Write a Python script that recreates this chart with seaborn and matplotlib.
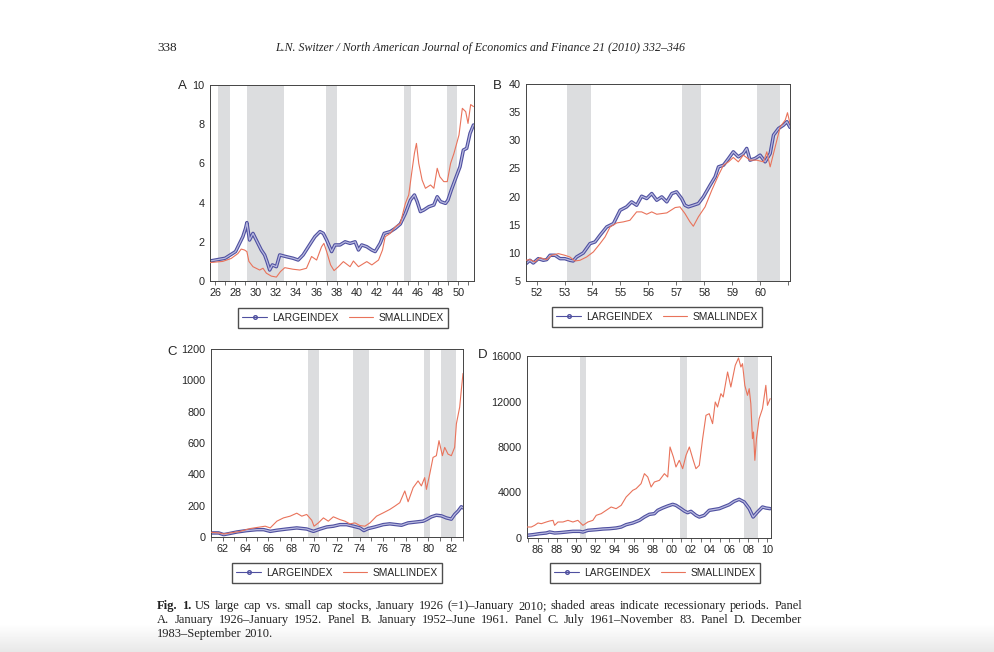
import numpy as np
import matplotlib
matplotlib.use("Agg")
import matplotlib.pyplot as plt
import matplotlib.patheffects as pe
import seaborn as sns
from matplotlib.lines import Line2D

# ---- Panel A: January 1926 - January 1952 ----
a_large_x = [1926.0, 1927.49, 1928.52, 1929.24, 1929.51, 1929.64, 1929.90, 1930.24, 1930.73,
             1931.06, 1931.39, 1931.62, 1931.89, 1932.15, 1932.55, 1932.88, 1933.54, 1934.20,
             1934.70, 1935.19, 1936.02, 1936.35, 1936.85, 1937.18, 1937.51, 1938.0, 1938.33,
             1938.83, 1939.33, 1939.82, 1940.32, 1940.65, 1940.97, 1941.47, 1941.97, 1942.30,
             1942.79, 1943.19, 1943.79, 1944.29, 1944.78, 1945.28, 1945.78, 1946.17, 1946.44,
             1946.76, 1947.09, 1947.59, 1948.09, 1948.42, 1948.75, 1949.24, 1949.48, 1949.81,
             1950.24, 1950.67, 1951.0, 1951.33, 1951.66, 1952.0]
a_large_y = [1.02, 1.16, 1.5, 2.26, 2.69, 2.98, 2.09, 2.43, 1.92,
             1.58, 1.33, 1.0, 0.56, 0.82, 0.73, 1.33, 1.24, 1.16,
             1.07, 1.33, 2.0, 2.26, 2.52, 2.43, 2.09, 1.5, 1.84,
             1.84, 2.0, 1.92, 2.0, 1.58, 1.84, 1.75, 1.58, 1.5,
             1.92, 2.43, 2.52, 2.69, 2.91, 3.45, 4.13, 4.39, 4.05,
             3.54, 3.62, 3.79, 3.88, 4.3, 4.05, 3.96, 4.13, 4.64,
             5.24, 5.83, 6.68, 6.77, 7.53, 7.96]
a_small_x = [1926.0, 1927.26, 1928.09, 1928.75, 1929.08, 1929.41, 1929.64, 1929.84, 1930.24,
             1930.90, 1931.23, 1931.56, 1932.05, 1932.55, 1932.95, 1933.38, 1934.20, 1934.86,
             1935.52, 1936.02, 1936.52, 1937.01, 1937.24, 1937.51, 1937.90, 1938.24, 1938.67,
             1939.16, 1939.82, 1940.15, 1940.65, 1941.47, 1941.97, 1942.63, 1943.02, 1943.29,
             1943.79, 1944.29, 1944.78, 1945.28, 1945.61, 1945.94, 1946.17, 1946.37, 1946.60,
             1946.93, 1947.26, 1947.76, 1948.09, 1948.42, 1948.68, 1949.07, 1949.41, 1949.74,
             1950.07, 1950.57, 1950.90, 1951.23, 1951.46, 1951.72, 1952.0]
a_small_y = [0.94, 1.0, 1.15, 1.4, 1.63, 1.58, 1.5, 1.0, 0.73,
             0.56, 0.65, 0.4, 0.25, 0.2, 0.48, 0.68, 0.6, 0.56,
             0.65, 1.25, 1.07, 1.75, 1.92, 1.5, 0.82, 0.53, 0.73,
             0.99, 0.73, 1.02, 0.73, 0.99, 0.82, 1.07, 1.58, 2.26,
             2.43, 2.77, 2.94, 3.96, 4.39, 5.66, 6.51, 7.02, 6.0,
             5.15, 4.73, 4.9, 4.73, 5.75, 5.32, 5.07, 5.07, 6.0,
             6.51, 7.45, 8.81, 8.64, 8.04, 9.0, 8.9]
a_recessions = [(1926.83, 1927.99), (1929.64, 1933.28), (1937.41, 1938.5),
                (1945.11, 1945.84), (1949.41, 1950.34)]

# ---- Panel B: January 1952 - June 1961 ----
b_large_x = [1952.12, 1952.26, 1952.38, 1952.56, 1952.74, 1952.86, 1952.98, 1953.16, 1953.34,
             1953.51, 1953.69, 1953.81, 1953.93, 1954.17, 1954.41, 1954.59, 1954.77, 1955.01,
             1955.25, 1955.49, 1955.72, 1955.90, 1956.08, 1956.26, 1956.44, 1956.62, 1956.80,
             1956.98, 1957.16, 1957.34, 1957.51, 1957.69, 1957.81, 1957.93, 1958.11, 1958.29,
             1958.47, 1958.71, 1958.89, 1959.01, 1959.19, 1959.37, 1959.54, 1959.72, 1959.90,
             1960.02, 1960.14, 1960.32, 1960.50, 1960.68, 1960.86, 1960.98, 1961.16, 1961.34,
             1961.46, 1961.57]
b_large_y = [8.08, 8.68, 8.2, 8.97, 8.68, 8.8, 9.57, 9.57, 8.97,
             8.97, 8.68, 8.56, 9.27, 9.98, 11.64, 11.94, 13.13, 14.61,
             15.2, 17.57, 18.17, 19.06, 18.46, 20.06, 19.65, 20.54, 19.35,
             19.95, 19.06, 20.54, 20.84, 19.65, 18.46, 18.17, 18.46, 18.76,
             19.95, 22.02, 23.5, 25.28, 25.58, 26.77, 27.95, 27.06, 27.65,
             28.55, 26.47, 26.77, 27.36, 26.17, 27.65, 30.92, 32.1, 32.7,
             33.3, 32.3]
b_small_x = [1952.12, 1952.26, 1952.44, 1952.62, 1952.86, 1953.04, 1953.28, 1953.51, 1953.69,
             1953.87, 1954.05, 1954.29, 1954.53, 1954.77, 1954.95, 1955.13, 1955.37, 1955.60,
             1955.84, 1956.08, 1956.26, 1956.44, 1956.62, 1956.80, 1957.16, 1957.46, 1957.63,
             1957.81, 1957.99, 1958.11, 1958.29, 1958.53, 1958.77, 1959.01, 1959.19, 1959.37,
             1959.54, 1959.72, 1959.90, 1960.14, 1960.38, 1960.62, 1960.74, 1960.86, 1961.04,
             1961.22, 1961.40, 1961.48, 1961.57]
b_small_y = [8.68, 8.8, 8.38, 9.15, 8.8, 9.57, 9.86, 9.57, 9.27,
             8.56, 8.68, 9.27, 10.16, 11.64, 12.83, 14.61, 15.32, 15.5,
             15.79, 17.28, 17.28, 16.86, 17.28, 16.86, 17.1, 18.05, 18.17,
             16.98, 15.5, 14.73, 16.39, 18.17, 21.13, 23.8, 25.58, 26.17,
             26.95, 26.17, 27.36, 26.47, 26.47, 26.17, 27.95, 25.28, 28.84,
             32.4, 33.59, 34.9, 33.0]
b_recessions = [(1953.60, 1954.43), (1957.69, 1958.37), (1960.38, 1961.22)]

# ---- Panel C: July 1961 - November 1983 ----
c_large_x = [1961.48, 1962.15, 1962.59, 1963.02, 1963.75, 1964.62, 1965.49, 1966.08, 1966.66,
             1967.24, 1968.11, 1968.98, 1969.85, 1970.44, 1971.02, 1971.60, 1972.18, 1972.76,
             1973.34, 1973.92, 1974.51, 1974.85, 1975.23, 1975.81, 1976.54, 1977.12, 1977.70,
             1978.14, 1978.72, 1979.45, 1980.03, 1980.32, 1980.76, 1981.19, 1981.63, 1982.06,
             1982.50, 1982.79, 1983.08, 1983.37, 1983.52]
c_large_y = [26, 26, 15, 21, 32, 41, 47, 47, 36,
             43, 51, 58, 51, 36, 51, 64, 69, 79,
             79, 69, 58, 41, 54, 64, 79, 84, 79,
             75, 90, 96, 101, 111, 129, 139, 135, 122,
             114, 144, 165, 193, 186]
c_small_x = [1961.48, 1962.15, 1962.59, 1963.17, 1964.04, 1964.91, 1965.78, 1966.22, 1966.66,
             1967.24, 1967.82, 1968.40, 1968.98, 1969.42, 1969.85, 1970.29, 1970.49, 1970.87,
             1971.31, 1971.74, 1972.18, 1972.76, 1973.20, 1973.63, 1974.07, 1974.51, 1974.94,
             1975.38, 1975.96, 1976.54, 1977.12, 1977.56, 1977.99, 1978.43, 1978.72, 1979.16,
             1979.59, 1979.88, 1980.17, 1980.32, 1980.61, 1980.90, 1981.19, 1981.42, 1981.72,
             1981.92, 1982.21, 1982.50, 1982.79, 1982.94, 1983.23, 1983.37, 1983.52]
c_small_y = [30, 26, 19, 26, 36, 54, 64, 69, 58,
             101, 122, 133, 152, 133, 144, 107, 69, 90,
             122, 101, 129, 111, 101, 84, 90, 73, 69,
             90, 133, 154, 176, 197, 219, 294, 225, 315,
             358, 326, 379, 304, 401, 508, 519, 615, 519,
             572, 529, 519, 572, 722, 829, 936, 1044]
c_recessions = [(1970.0, 1970.96), (1973.92, 1975.29), (1980.09, 1980.61), (1981.57, 1982.94)]

# ---- Panel D: December 1983 - September 2010 ----
d_large_x = [1984.85, 1985.48, 1986.17, 1986.87, 1987.22, 1987.74, 1988.26, 1988.96, 1989.65,
             1990.35, 1990.70, 1991.22, 1992.09, 1992.78, 1993.48, 1994.17, 1994.70, 1995.22,
             1995.91, 1996.61, 1997.13, 1997.65, 1998.17, 1998.52, 1999.04, 1999.57, 2000.09,
             2000.43, 2000.96, 2001.30, 2001.65, 2002.0, 2002.52, 2002.87, 2003.39, 2003.91,
             2004.96, 2006.0, 2006.52, 2007.04, 2007.57, 2008.09, 2008.50, 2008.96, 2009.48,
             2009.83, 2010.28]
d_large_y = [234, 293, 381, 440, 527, 440, 469, 527, 586,
             586, 527, 674, 733, 791, 821, 879, 967, 1172,
             1319, 1553, 1846, 2081, 2139, 2432, 2637, 2813, 2960,
             2872, 2579, 2374, 2227, 2344, 1993, 1846, 1993, 2432,
             2579, 2930, 3223, 3399, 3165, 2579, 1846, 2286, 2725,
             2637, 2579]
d_small_x = [1984.85, 1985.30, 1985.65, 1986.0, 1986.35, 1986.87, 1987.22, 1987.57, 1987.74,
             1988.09, 1988.61, 1989.13, 1989.65, 1990.17, 1990.70, 1991.22, 1991.74, 1992.09,
             1992.61, 1993.13, 1993.65, 1994.17, 1994.70, 1995.22, 1995.57, 1995.91, 1996.26,
             1996.78, 1997.13, 1997.48, 1997.83, 1998.17, 1998.70, 1999.22, 1999.57, 1999.81,
             2000.16, 2000.43, 2000.78, 2001.13, 2001.48, 2001.83, 2002.24, 2002.52, 2002.87,
             2003.22, 2003.57, 2003.91, 2004.26, 2004.54, 2004.78, 2005.13, 2005.37, 2005.83,
             2006.17, 2006.63, 2006.97, 2007.22, 2007.39, 2007.63, 2007.91, 2008.09, 2008.26,
             2008.43, 2008.54, 2008.68, 2008.85, 2009.13, 2009.48, 2009.83, 2010.0, 2010.28]
d_small_y = [967, 967, 1114, 1319, 1260, 1407, 1495, 1553, 1114,
             1407, 1407, 1553, 1407, 1553, 1114, 1407, 1553, 1993,
             2139, 2432, 2725, 2579, 2872, 3604, 3897, 4190, 4337,
             4777, 5656, 5363, 4484, 4923, 5070, 5656, 5363, 8000,
             7121, 6242, 6828, 6095, 7267, 8000, 6828, 6095, 6388,
             8732, 10784, 10930, 10051, 11956, 11516, 12688, 12396, 14593,
             13275, 15179, 15824, 15033, 15326, 13421, 12542, 13128, 11810,
             8732, 9319, 6828, 8732, 10491, 11370, 13421, 11663, 12249]
d_recessions = [(1990.35, 1991.04), (2000.89, 2001.55), (2007.57, 2009.03)]

BLUE = "#4f50a0"
BLUE_LIGHT = "#b9bae0"
RED = "#e9735b"
SHADE = "#dcdddf"
W, H = 995, 652

sns.set_theme(style="white")
plt.rcParams["font.family"] = ["Liberation Sans", "DejaVu Sans"]

fig = plt.figure(figsize=(W / 100, H / 100), dpi=100)
fig.patch.set_facecolor("white")

# soft grey shadow at the bottom of the scanned page
bg = fig.add_axes([0, 0, 1, 1], zorder=-10)
grad = np.ones((H, 2))
grad[623:, :] = np.linspace(1.0, 0.91, H - 623)[:, None]
bg.imshow(grad, cmap="gray", vmin=0, vmax=1, aspect="auto", extent=(0, 1, 0, 1))
bg.axis("off")

# ring-chain look of the monthly markers on the large-cap line
chain = [pe.Stroke(linewidth=2.5, foreground=BLUE), pe.Normal()]


def px_rect(left, right, top, bottom):
    return [left / W, 1 - bottom / H, (right - left) / W, (bottom - top) / H]


def draw_panel(rect, lx, ly, sx, sy, recessions, ylim, yticks, xticks, tick_shift,
               xlim, letter, letter_xy, legend_xy):
    ax = fig.add_axes(rect)
    for a, b in recessions:
        ax.axvspan(a, b, color=SHADE, lw=0, zorder=0)
    sns.lineplot(x=lx, y=ly, ax=ax, color=BLUE_LIGHT, lw=0.9, path_effects=chain, zorder=2)
    sns.lineplot(x=sx, y=sy, ax=ax, color=RED, lw=0.8, zorder=3)
    ax.set_xlim(*xlim)
    ax.set_ylim(*ylim)
    ax.set_yticks(yticks)
    ax.set_yticklabels([str(v) for v in yticks])
    ax.set_xticks([t + tick_shift for t in xticks])
    ax.set_xticklabels([f"{t % 100:02d}" for t in xticks])
    minor = np.arange(int(xlim[0]), int(xlim[1]) + 1) + tick_shift
    ax.set_xticks([m for m in minor if xlim[0] <= m <= xlim[1]], minor=True)
    ax.tick_params(axis="x", which="both", direction="out", length=3, width=0.6,
                   color="#555555", labelsize=7.8, pad=2, bottom=True)
    ax.tick_params(axis="y", length=0, labelsize=7.8, pad=4)
    ax.set_xlabel("")
    ax.set_ylabel("")
    for sp in ax.spines.values():
        sp.set_color("#444444")
        sp.set_linewidth(0.7)
    fig.text(letter_xy[0] / W, 1 - letter_xy[1] / H, letter, fontsize=9.5,
             ha="center", va="center")
    handles = [Line2D([], [], color=BLUE, lw=0.8, marker="o", markersize=2.6,
                      markerfacecolor="none", markevery=[1]),
               Line2D([], [], color=RED, lw=0.8)]
    fig.legend(handles, ["LARGEINDEX", "SMALLINDEX"], loc="center",
               bbox_to_anchor=(legend_xy[0] / W, 1 - legend_xy[1] / H), ncol=2,
               frameon=True, fancybox=False, edgecolor="#222222", fontsize=7.4,
               handlelength=2.4, columnspacing=1.0, borderpad=0.45, handletextpad=0.5,
               borderaxespad=0.0)
    return ax


draw_panel(px_rect(210, 474, 85, 281), a_large_x, a_large_y, a_small_x, a_small_y,
           a_recessions, (0, 10), [0, 2, 4, 6, 8, 10], list(range(1926, 1951, 2)), 0.5,
           (1926.0, 1952.05), "A", (182, 86), (343, 318))
draw_panel(px_rect(526, 790, 84, 281), b_large_x, b_large_y, b_small_x, b_small_y,
           b_recessions, (5, 40), [5, 10, 15, 20, 25, 30, 35, 40], list(range(1952, 1961)), 0.5,
           (1952.12, 1961.57), "B", (497, 86), (657, 317))
draw_panel(px_rect(211, 463, 349, 537), c_large_x, c_large_y, c_small_x, c_small_y,
           c_recessions, (0, 1200), [0, 200, 400, 600, 800, 1000, 1200],
           list(range(1962, 1983, 2)), 0.5, (1961.48, 1983.52), "C", (172, 352), (337, 573))
draw_panel(px_rect(527, 771, 356, 538), d_large_x, d_large_y, d_small_x, d_small_y,
           d_recessions, (0, 16000), [0, 4000, 8000, 12000, 16000],
           list(range(1986, 2011, 2)), 0.0, (1984.85, 2010.37), "D", (483, 355), (655, 573))

# ---- page header and caption ----
renderer = fig.canvas.get_renderer()
SERIF = ["Liberation Serif", "DejaVu Serif"]


def fit_text(s, x0, x1, y, **kw):
    t = fig.text(x0 / W, 1 - y / H, s, va="center", family=SERIF, **kw)
    w = t.get_window_extent(renderer).width
    t.set_fontsize(t.get_fontsize() * (x1 - x0) / w)
    return t


def justify(words, x0, x1, y, size, n_bold=0, stretch=True):
    objs = []
    for i, w in enumerate(words):
        objs.append(fig.text(0, 1 - y / H, w, va="center", family=SERIF, fontsize=size,
                             weight="bold" if i < n_bold else "normal", color="#222222"))
    widths = [t.get_window_extent(renderer).width for t in objs]
    if stretch:
        gap = ((x1 - x0) - sum(widths)) / (len(words) - 1)
    else:
        gap = size * 100 / 72 * 0.25
    x = x0
    for t, w in zip(objs, widths):
        t.set_x(x / W)
        x += w + gap


fig.text(157 / W, 1 - 48 / H, "338", va="center", family=SERIF, fontsize=9.5, color="#222222")
fit_text("L.N. Switzer / North American Journal of Economics and Finance 21 (2010) 332\u2013346",
         275, 686, 48, style="italic", fontsize=9.5, color="#222222")

cap1 = ("Fig. 1. US large cap vs. small cap stocks, January 1926 (=1)\u2013January 2010; "
        "shaded areas indicate recessionary periods. Panel").split()
cap2 = ("A. January 1926\u2013January 1952. Panel B. January 1952\u2013June 1961. Panel C. "
        "July 1961\u2013November 83. Panel D. December").split()
cap3 = "1983\u2013September 2010.".split()

probe = fig.text(0, 0, " ".join(cap1), family=SERIF, fontsize=9)
cap_size = 9 * 0.97 * (802 - 157) / probe.get_window_extent(renderer).width
probe.remove()
justify(cap1, 157, 802, 606, cap_size, n_bold=2)
justify(cap2, 157, 802, 620, cap_size)
justify(cap3, 157, 802, 634, cap_size, stretch=False)

fig.savefig("out.png", dpi=100)
